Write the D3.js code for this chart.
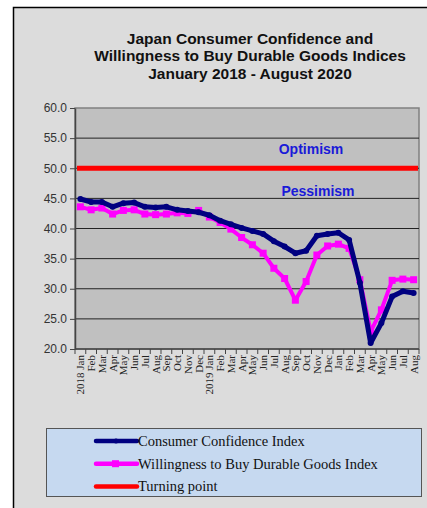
<!DOCTYPE html>
<html><head><meta charset="utf-8">
<script src="https://cdn.jsdelivr.net/npm/d3@7/dist/d3.min.js"></script>
<style>html,body{margin:0;padding:0;background:#fff;}svg{display:block;}</style>
</head><body>
<svg id="chart" width="427" height="508"></svg>
<script>
const months = ["Jan","Feb","Mar","Apr","May","Jun","Jul","Aug","Sep","Oct","Nov","Dec",
  "Jan","Feb","Mar","Apr","May","Jun","Jul","Aug","Sep","Oct","Nov","Dec",
  "Jan","Feb","Mar","Apr","May","Jun","Jul","Aug"];
const yearLabels = {0:"2018", 12:"2019"};
const consumerConfidence = [44.9,44.4,44.4,43.6,44.2,44.3,43.6,43.5,43.6,43.1,42.9,42.7,
  42.2,41.3,40.7,40.1,39.6,39.1,37.9,37.0,35.9,36.3,38.8,39.1,
  39.3,38.1,31.0,21.0,24.3,28.7,29.6,29.3];
const durableGoods = [43.6,43.1,43.4,42.4,43.0,43.1,42.4,42.3,42.4,42.6,42.5,43.0,
  41.9,41.0,39.9,38.5,37.3,35.9,33.4,31.7,28.1,31.2,35.6,37.1,
  37.4,36.7,31.5,22.9,26.5,31.4,31.6,31.5];
const turningPoint = months.map(() => 50);
const yTicks = [20,25,30,35,40,45,50,55,60];

const svg = d3.select("#chart");
// outer frame
svg.append("rect").attr("x",13.5).attr("y",7.5).attr("width",430).attr("height",520)
  .attr("fill","#dcdcdc").attr("stroke","#000").attr("stroke-width",1.5);

const titleLines = ["Japan Consumer Confidence and","Willingness to Buy Durable Goods Indices","January 2018 - August 2020"];
svg.append("g").selectAll("text").data(titleLines).join("text")
  .attr("x",250).attr("y",(d,i)=>43.5+i*17.5).attr("text-anchor","middle")
  .attr("font-family","Liberation Sans, Arial, sans-serif").attr("font-weight","bold")
  .attr("font-size",15.5).attr("fill","#111").text(d=>d);

const L=75, R=419, T=108, B=349;
const x = d3.scaleBand().domain(d3.range(months.length)).range([L,R]);
const y = d3.scaleLinear().domain([20,60]).range([B,T]);

svg.append("rect").attr("x",L).attr("y",T).attr("width",R-L).attr("height",B-T)
  .attr("fill","#c0c0c0").attr("stroke","#808080").attr("stroke-width",1.5);

// gridlines
svg.append("g").selectAll("line").data(yTicks.filter(v=>v>20&&v<60)).join("line")
  .attr("x1",L).attr("x2",R).attr("y1",d=>y(d)).attr("y2",d=>y(d))
  .attr("stroke","#222").attr("stroke-width",1);

// y axis
const yAxis = svg.append("g").attr("transform",`translate(${L},0)`)
  .call(d3.axisLeft(y).tickValues(yTicks).tickFormat(d3.format(".1f")).tickSize(5).tickSizeOuter(0));
yAxis.select(".domain").attr("stroke","#444").attr("stroke-width",1.5);
yAxis.selectAll(".tick line").attr("stroke","#444");
yAxis.selectAll("text").attr("font-family","Liberation Sans, Arial, sans-serif")
  .attr("font-size",12).attr("fill","#333").attr("x",-8);

// x axis
const xAxis = svg.append("g").attr("transform",`translate(0,${B})`);
xAxis.append("line").attr("x1",L).attr("x2",R).attr("y1",0).attr("y2",0)
  .attr("stroke","#444").attr("stroke-width",1.5);
xAxis.selectAll("line.t").data(d3.range(months.length+1)).join("line").attr("class","t")
  .attr("x1",d=>L+d*x.step()).attr("x2",d=>L+d*x.step()).attr("y1",0).attr("y2",5)
  .attr("stroke","#444");
xAxis.selectAll("text").data(months).join("text")
  .attr("transform",(d,i)=>`translate(${x(i)+x.bandwidth()/2+4},6) rotate(-90)`)
  .attr("text-anchor","end").attr("font-family","Liberation Serif, Times New Roman, serif")
  .attr("font-size",11).attr("fill","#222")
  .text((d,i)=> yearLabels[i] ? yearLabels[i]+" "+d : d);

const cx = i => x(i)+x.bandwidth()/2;
// turning point line across the plot
svg.append("line").attr("x1",x.range()[0]+2).attr("x2",x.range()[1]-1)
  .attr("y1",y(turningPoint[0])).attr("y2",y(turningPoint[turningPoint.length-1]))
  .attr("stroke","#ff0000").attr("stroke-width",5);

const line = d3.line().x((d,i)=>cx(i)).y(d=>y(d));
// durable goods (magenta)
svg.append("path").datum(durableGoods).attr("d",line).attr("fill","none")
  .attr("stroke","#ff00ff").attr("stroke-width",4).attr("stroke-linejoin","round");
svg.append("g").selectAll("rect").data(durableGoods).join("rect")
  .attr("x",(d,i)=>cx(i)-3.5).attr("y",d=>y(d)-3.5).attr("width",7).attr("height",7)
  .attr("fill","#ff00ff");
// consumer confidence (navy)
svg.append("path").datum(consumerConfidence).attr("d",line).attr("fill","none")
  .attr("stroke","#000080").attr("stroke-width",5).attr("stroke-linejoin","round");
svg.append("g").selectAll("circle").data(consumerConfidence).join("circle")
  .attr("cx",(d,i)=>cx(i)).attr("cy",d=>y(d)).attr("r",3).attr("fill","#000080");

// annotations
svg.append("text").attr("x",311).attr("y",154).attr("text-anchor","middle")
  .attr("font-family","Liberation Sans, Arial, sans-serif").attr("font-weight","bold")
  .attr("font-size",14).attr("fill","#1a1ad8").text("Optimism");
svg.append("text").attr("x",318).attr("y",196).attr("text-anchor","middle")
  .attr("font-family","Liberation Sans, Arial, sans-serif").attr("font-weight","bold")
  .attr("font-size",14).attr("fill","#1a1ad8").text("Pessimism");

// legend
const legendItems = [
  {name:"Consumer Confidence Index", color:"#000080", marker:"circle"},
  {name:"Willingness to Buy Durable Goods Index", color:"#ff00ff", marker:"rect"},
  {name:"Turning point", color:"#ff0000", marker:null}
];
const lg = svg.append("g");
lg.append("rect").attr("x",46.5).attr("y",428.5).attr("width",375).attr("height",68)
  .attr("fill","#c6d9f0").attr("stroke","#555").attr("stroke-width",1);
const li = lg.selectAll("g").data(legendItems).join("g")
  .attr("transform",(d,i)=>`translate(0,${441+i*22.7})`);
li.append("line").attr("x1",96).attr("x2",137).attr("y1",0).attr("y2",0)
  .attr("stroke",d=>d.color).attr("stroke-width",4.5).attr("stroke-linecap","round");
li.filter(d=>d.marker==="rect").append("rect").attr("x",112).attr("y",-3.5).attr("width",7).attr("height",7).attr("fill",d=>d.color);
li.filter(d=>d.marker==="circle").append("circle").attr("cx",116).attr("cy",0).attr("r",2.5).attr("fill",d=>d.color);
li.append("text").attr("x",138).attr("y",5)
  .attr("font-family","Liberation Serif, Times New Roman, serif").attr("font-size",14.5)
  .attr("fill","#111").text(d=>d.name);
</script>
</body></html>
